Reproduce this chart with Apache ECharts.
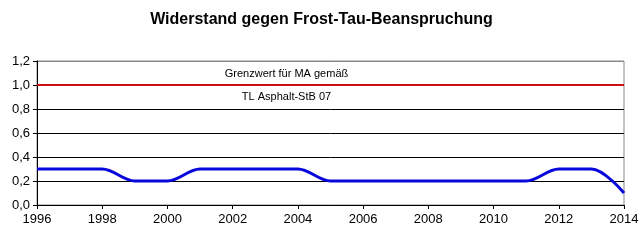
<!DOCTYPE html>
<html><head><meta charset="utf-8">
<script src="https://cdn.jsdelivr.net/npm/echarts@6/dist/echarts.min.js"></script>
<style>html,body{margin:0;padding:0;background:#fff}#c{width:643px;height:243px}</style>
</head><body><div id="c"></div>
<script>
const years = [1996,1997,1998,1999,2000,2001,2002,2003,2004,2005,2006,2007,2008,2009,2010,2011,2012,2013,2014];
const values = [0.3,0.3,0.3,0.2,0.2,0.3,0.3,0.3,0.3,0.2,0.2,0.2,0.2,0.2,0.2,0.2,0.3,0.3,0.1];
const limitValue = 1.0;
const limitLabelTop = 'Grenzwert für MA gemäß';
const limitLabelBottom = 'TL Asphalt-StB 07';
const titleText = 'Widerstand gegen Frost-Tau-Beanspruchung';

const chart = echarts.init(document.getElementById('c'), null, {renderer:'canvas'});
const font = 'Arial, "Liberation Sans", sans-serif';
chart.setOption({
  animation:false,
  title:{text:titleText,left:'center',top:7,textStyle:{fontFamily:font,fontSize:16,fontWeight:'bold',color:'#000'}},
  grid:{left:37,right:19,top:61,bottom:38,show:true,borderColor:'#888',borderWidth:1},
  xAxis:{type:'value',min:1996,max:2014,interval:2,
    axisLine:{lineStyle:{color:'#000',width:1}},
    axisTick:{show:true,length:4,lineStyle:{color:'#000'}},
    axisLabel:{color:'#000',fontFamily:font,fontSize:13,margin:8,formatter:v=>String(v)},
    splitLine:{show:false}},
  yAxis:{type:'value',min:0,max:1.2,interval:0.2,
    axisLine:{show:true,lineStyle:{color:'#000',width:1}},
    axisTick:{show:true,length:4,lineStyle:{color:'#000'}},
    axisLabel:{color:'#000',fontFamily:font,fontSize:13,margin:7,formatter:v=>v.toFixed(1).replace('.',',')},
    splitLine:{show:true,lineStyle:{color:['#000','#000','#000','#000','#000','#000','#888'],width:1}}},
  series:[{
    type:'line',
    data:years.map((y,i)=>[y,values[i]]),
    smooth:0.35,
    symbol:'none',
    lineStyle:{color:'#0808dc',width:3},
    z:3,
    markLine:{
      silent:true,symbol:'none',
      lineStyle:{color:'#cc1010',width:2,type:'solid'},
      data:[
        {yAxis:limitValue,label:{show:true,position:'insideMiddleTop',formatter:limitLabelTop,color:'#000',fontFamily:font,fontSize:11,distance:6,offset:[-44,0]}},
        {yAxis:limitValue,label:{show:true,position:'insideMiddleBottom',formatter:limitLabelBottom,color:'#000',fontFamily:font,fontSize:11,distance:6,offset:[-44,0]}}
      ]
    }
  }]
});
</script></body></html>
